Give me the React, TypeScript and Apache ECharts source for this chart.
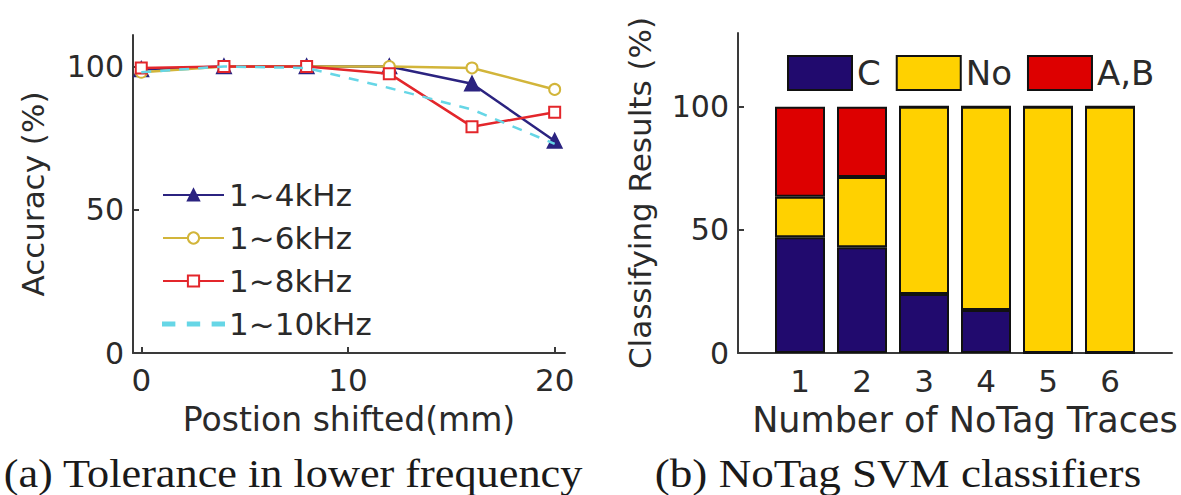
import React, { useEffect, useRef } from 'react';
import * as echarts from 'echarts';

// ---- (a) Tolerance in lower frequency ----
const shiftMm = [0, 4, 8, 12, 16, 20];
const acc4k = [99, 100, 100, 100, 94, 74];
const acc6k = [98, 100, 100, 100, 99.5, 92];
const acc8k = [99.5, 100, 100, 97.5, 79, 84];
const acc10k = [98, 100, 99.5, 92.5, 85, 73];
const lineNames = ['1~4kHz', '1~6kHz', '1~8kHz', '1~10kHz'];
const xTicksA = [0, 10, 20];
const yTicks = [0, 50, 100];

// ---- (b) NoTag SVM classifiers ----
const traceCats = ['1', '2', '3', '4', '5', '6'];
const resC = [47, 43, 24, 17.5, 0, 0];
const resNo = [16.5, 28.5, 76, 82.5, 100, 100];
const resAB = [36.5, 28.5, 0, 0, 0, 0];
const barNames = ['C', 'No', 'A,B'];

const captionA = '(a) Tolerance in lower frequency';
const captionB = '(b) NoTag SVM classifiers';

const SANS = '"DejaVu Sans", sans-serif';
const SERIF = '"Liberation Serif", "Times New Roman", serif';
const TXT = '#2a2a2a';
const AXIS = '#3a3a3a';
const DASH_ICON = 'path://M0,0h11v3h-11z M24,0h11v3h-11z M48,0h11v3h-11z';

export default function App() {
  const ref = useRef<HTMLDivElement>(null);

  useEffect(() => {
    if (!ref.current) return;
    const chart = echarts.init(ref.current, undefined, { renderer: 'svg' });

    const pairs = (ys: number[]) => shiftMm.map((x, i) => [x, ys[i]]);
    const pad = (v: number[]) => [null, ...v, null];
    const lineColors = ['#2b2380', '#d2b53a', '#e3262b', '#66d6e6'];
    const lineData = [acc4k, acc6k, acc8k, acc10k];
    const symbols = ['triangle', 'emptyCircle', 'emptyRect', 'none'];

    const axisCommon = {
      axisLine: { show: true, onZero: false, lineStyle: { color: AXIS, width: 2 } },
      splitLine: { show: false },
    };

    const option: any = {
      animation: false,
      backgroundColor: '#ffffff',
      grid: [
        { left: 133, top: 35, width: 432, height: 318 },
        { left: 738, top: 33, width: 434, height: 320 },
      ],
      legend: [
        {
          data: lineNames.map((n, i) => (i === 3 ? { name: n, icon: DASH_ICON } : { name: n })),
          orient: 'vertical',
          left: 157,
          top: 174,
          itemWidth: 61,
          itemHeight: 14,
          itemGap: 11,
          selectedMode: false,
          textStyle: { fontFamily: SANS, fontSize: 31, lineHeight: 32, color: TXT },
        },
        {
          data: barNames,
          orient: 'horizontal',
          left: 782,
          top: 50,
          itemWidth: 64,
          itemHeight: 34,
          itemGap: 15,
          icon: 'rect',
          selectedMode: false,
          textStyle: { fontFamily: SANS, fontSize: 34, color: TXT },
        },
      ],
      xAxis: [
        {
          type: 'value',
          gridIndex: 0,
          min: -0.4,
          max: 20.5,
          ...axisCommon,
          axisTick: { show: true, inside: true, length: 6, customValues: xTicksA, lineStyle: { color: AXIS, width: 2 } },
          axisLabel: { customValues: xTicksA, fontFamily: SANS, fontSize: 31, color: TXT, margin: 11 },
          name: 'Postion shifted(mm)',
          nameLocation: 'middle',
          nameGap: 50,
          nameTextStyle: { fontFamily: SANS, fontSize: 33, color: TXT },
        },
        {
          type: 'category',
          gridIndex: 1,
          data: ['', ...traceCats, ''],
          boundaryGap: false,
          ...axisCommon,
          axisTick: {
            show: true,
            inside: true,
            length: 6,
            interval: (i: number) => i > 0 && i < traceCats.length + 1,
            lineStyle: { color: AXIS, width: 2 },
          },
          axisLabel: { interval: 0, fontFamily: SANS, fontSize: 31, color: TXT, margin: 12 },
          name: 'Number of NoTag Traces',
          nameLocation: 'middle',
          nameGap: 49,
          nameTextStyle: { fontFamily: SANS, fontSize: 35, color: TXT, padding: [0, 0, 0, 20] },
        },
      ],
      yAxis: [
        {
          type: 'value',
          gridIndex: 0,
          min: 0,
          max: 111,
          ...axisCommon,
          axisTick: { show: true, inside: true, length: 6, customValues: yTicks, lineStyle: { color: AXIS, width: 2 } },
          axisLabel: { customValues: yTicks, fontFamily: SANS, fontSize: 30, color: TXT, margin: 9 },
          name: 'Accuracy (%)',
          nameLocation: 'middle',
          nameGap: 85,
          nameTextStyle: { fontFamily: SANS, fontSize: 31, color: TXT },
        },
        {
          type: 'value',
          gridIndex: 1,
          min: 0,
          max: 130,
          ...axisCommon,
          axisTick: { show: true, inside: true, length: 6, customValues: yTicks, lineStyle: { color: AXIS, width: 2 } },
          axisLabel: { customValues: yTicks, fontFamily: SANS, fontSize: 30, color: TXT, margin: 9 },
          name: 'Classifying Results (%)',
          nameLocation: 'middle',
          nameGap: 83,
          nameTextStyle: { fontFamily: SANS, fontSize: 31, color: TXT },
        },
      ],
      series: [
        ...lineNames.map((name, i) => ({
          name,
          type: 'line',
          xAxisIndex: 0,
          yAxisIndex: 0,
          data: pairs(lineData[i]),
          symbol: symbols[i],
          symbolSize: i === 0 ? 13 : 11,
          showSymbol: symbols[i] !== 'none',
          lineStyle: { color: lineColors[i], width: 2.5, type: i === 3 ? [10, 9] : 'solid' },
          itemStyle: { color: lineColors[i], borderColor: lineColors[i], borderWidth: 2.5 },
          z: 2 + i,
        })),
        ...[resC, resNo, resAB].map((vals, i) => ({
          name: barNames[i],
          type: 'bar',
          xAxisIndex: 1,
          yAxisIndex: 1,
          stack: 'res',
          barWidth: 50,
          data: pad(vals),
          itemStyle: {
            color: ['#210a6e', '#ffd100', '#dd0000'][i],
            borderColor: '#111111',
            borderWidth: 2,
          },
        })),
      ],
      graphic: [
        {
          type: 'text',
          x: 293,
          y: 473,
          scaleX: 1.08,
          style: {
            text: captionA,
            font: `41px ${SERIF}`,
            fill: '#1a1a1a',
            align: 'center',
            verticalAlign: 'middle',
          },
        },
        {
          type: 'text',
          x: 898,
          y: 473,
          scaleX: 1.1,
          style: {
            text: captionB,
            font: `41px ${SERIF}`,
            fill: '#1a1a1a',
            align: 'center',
            verticalAlign: 'middle',
          },
        },
      ],
    };

    chart.setOption(option);
    return () => chart.dispose();
  }, []);

  return (
    <div
      ref={ref}
      style={{ position: 'absolute', left: 0, top: 0, width: 1181, height: 495, background: '#fff' }}
    />
  );
}
